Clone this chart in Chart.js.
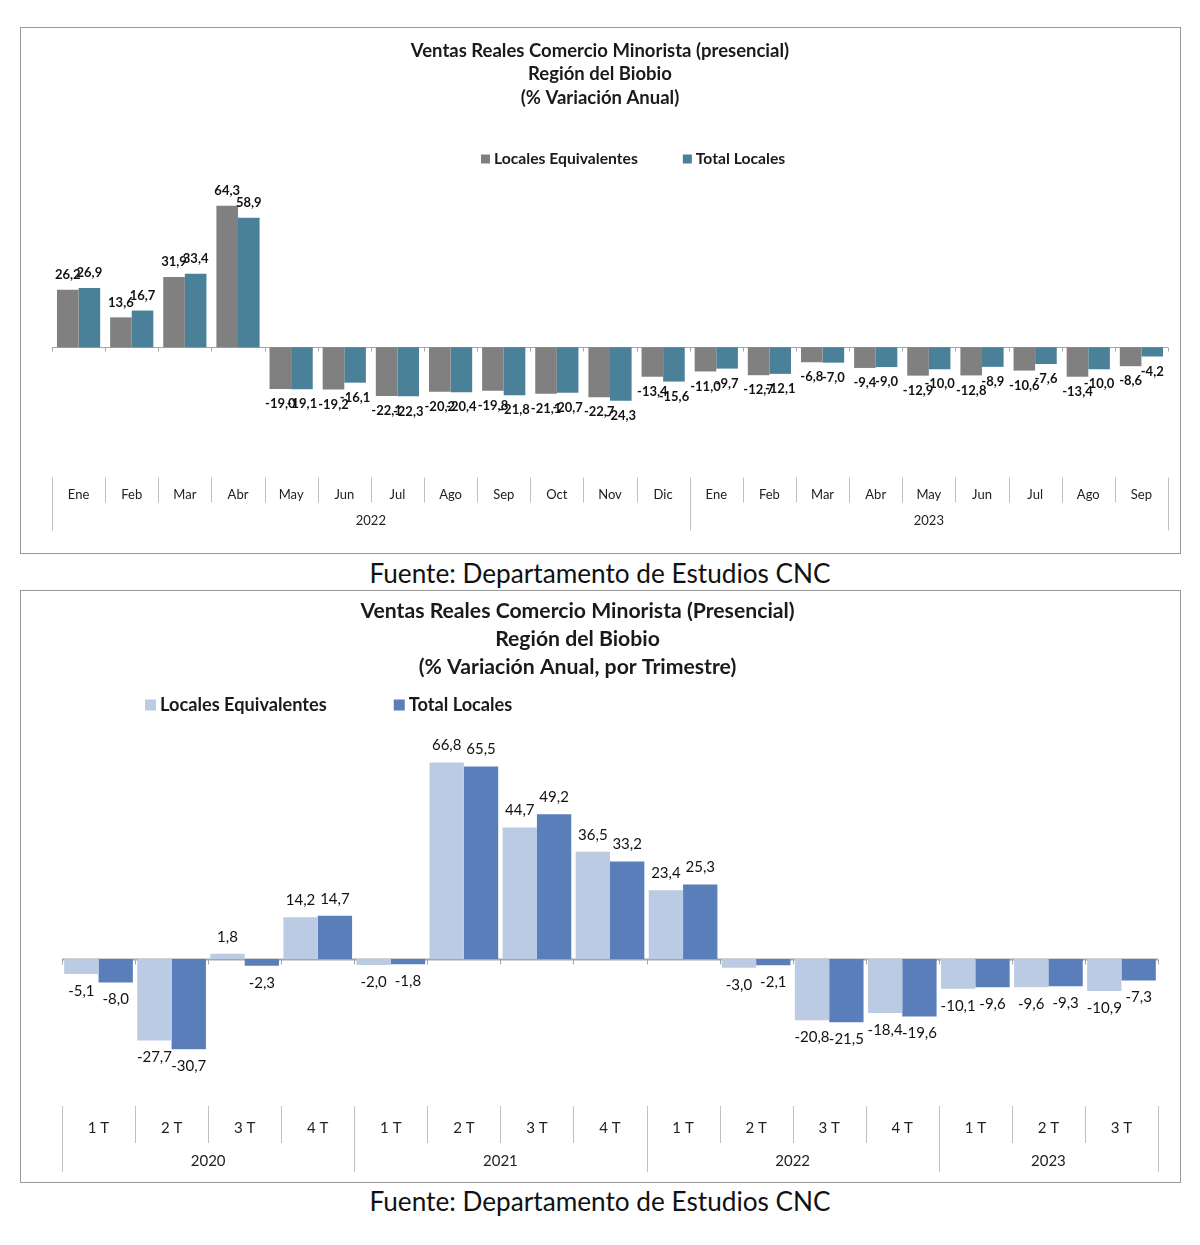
<!DOCTYPE html>
<html><head><meta charset="utf-8">
<script src="https://cdn.jsdelivr.net/npm/chart.js@4"></script>
<style>
body{margin:0;background:#fff;width:1200px;height:1245px;position:relative;overflow:hidden;font-family:Lato,sans-serif}
.box{position:absolute;left:20px;width:1159px;border:1px solid #9a9a9a;background:#fff}
#box1{top:27px;height:525px}
#box2{top:590px;height:591px}
canvas{position:absolute;left:0;top:0}
.src{position:absolute;left:0;width:1200px;text-align:center;font-size:26.2px;color:#111;font-family:Lato,sans-serif}
</style></head><body>
<div class="box" id="box1"><canvas id="c1" width="1159" height="525"></canvas></div>
<div class="src" style="top:557px">Fuente: Departamento de Estudios CNC</div>
<div class="box" id="box2"><canvas id="c2" width="1159" height="591"></canvas></div>
<div class="src" style="top:1185px">Fuente: Departamento de Estudios CNC</div>
<script>
// ---- Chart 1 data (monthly) ----
const monthTitle = ['Ventas Reales Comercio Minorista (presencial)', 'Región del Biobio', '(% Variación Anual)'];
const monthLabels = ['Ene','Feb','Mar','Abr','May','Jun','Jul','Ago','Sep','Oct','Nov','Dic','Ene','Feb','Mar','Abr','May','Jun','Jul','Ago','Sep'];
const monthYears = ['2022','2023'];
const monthYearCounts = [12, 9];
const monthEquiv = [26.2,13.6,31.9,64.3,-19.0,-19.2,-22.1,-20.2,-19.8,-21.1,-22.7,-13.4,-11.0,-12.7,-6.8,-9.4,-12.9,-12.8,-10.6,-13.4,-8.6];
const monthTotal = [26.9,16.7,33.4,58.9,-19.1,-16.1,-22.3,-20.4,-21.8,-20.7,-24.3,-15.6,-9.7,-12.1,-7.0,-9.0,-10.0,-8.9,-7.6,-10.0,-4.2];

// ---- Chart 2 data (quarterly) ----
const quarterTitle = ['Ventas Reales Comercio Minorista (Presencial)', 'Región del Biobio', '(% Variación Anual, por Trimestre)'];
const quarterLabels = ['1 T','2 T','3 T','4 T','1 T','2 T','3 T','4 T','1 T','2 T','3 T','4 T','1 T','2 T','3 T'];
const quarterYears = ['2020','2021','2022','2023'];
const quarterYearCounts = [4, 4, 4, 3];
const quarterEquiv = [-5.1,-27.7,1.8,14.2,-2.0,66.8,44.7,36.5,23.4,-3.0,-20.8,-18.4,-10.1,-9.6,-10.9];
const quarterTotal = [-8.0,-30.7,-2.3,14.7,-1.8,65.5,49.2,33.2,25.3,-2.1,-21.5,-19.6,-9.6,-9.3,-7.3];

const FONT = "Lato, sans-serif";

const valueLabels = {
  id: 'valueLabels',
  afterDatasetsDraw(chart, args, o) {
    const ctx = chart.ctx; ctx.save();
    ctx.font = o.font; ctx.fillStyle = o.color; ctx.textAlign = 'center'; ctx.textBaseline = 'middle';
    chart.data.datasets.forEach((ds, i) => {
      chart.getDatasetMeta(i).data.forEach((bar, j) => {
        const v = ds.data[j];
        const y = v >= 0 ? bar.y - o.offset : bar.y + o.offset;
        ctx.fillText(v.toFixed(1).replace('.', ','), bar.x, y);
      });
    });
    ctx.restore();
  }
};

const groupAxis = {
  id: 'groupAxis',
  beforeDatasetsDraw(chart, args, o) {
    const x = chart.scales.x, y = chart.scales.y, ctx = chart.ctx;
    const n = chart.data.labels.length;
    const w = x.getPixelForValue(1) - x.getPixelForValue(0);
    const edge = i => x.getPixelForValue(0) + (i - 0.5) * w;
    const zy = Math.round(y.getPixelForValue(0)) + 0.5;
    ctx.save();
    ctx.strokeStyle = o.zeroColor; ctx.lineWidth = o.zeroWidth;
    ctx.beginPath(); ctx.moveTo(edge(0), zy); ctx.lineTo(edge(n), zy); ctx.stroke();
    ctx.lineWidth = 1;
    for (let i = 0; i <= n; i++) {
      const px = Math.round(edge(i)) + 0.5;
      ctx.beginPath(); ctx.moveTo(px, zy); ctx.lineTo(px, zy + o.zeroTick); ctx.stroke();
    }
    ctx.restore();
  },
  afterDraw(chart, args, o) {
    const x = chart.scales.x, ctx = chart.ctx;
    const n = chart.data.labels.length;
    const w = x.getPixelForValue(1) - x.getPixelForValue(0);
    const edge = i => x.getPixelForValue(0) + (i - 0.5) * w;
    const starts = [0]; let acc = 0;
    o.counts.forEach(c => { acc += c; starts.push(acc); });
    const top = chart.chartArea.bottom;
    ctx.save();
    ctx.strokeStyle = o.sepColor; ctx.lineWidth = 1;
    for (let i = 0; i <= n; i++) {
      const px = Math.round(edge(i)) + 0.5;
      const len = starts.includes(i) ? o.longLen : o.shortLen;
      ctx.beginPath(); ctx.moveTo(px, top); ctx.lineTo(px, top + len); ctx.stroke();
    }
    ctx.font = o.font; ctx.fillStyle = o.color; ctx.textAlign = 'center'; ctx.textBaseline = 'middle';
    o.groups.forEach((g, k) => {
      const cx = (edge(starts[k]) + edge(starts[k + 1])) / 2;
      ctx.fillText(g, cx, top + o.groupY);
    });
    ctx.restore();
  }
};

const customTitle = {
  id: 'customTitle',
  afterDraw(chart, args, o) {
    const ctx = chart.ctx; ctx.save();
    ctx.font = o.font; ctx.fillStyle = o.color; ctx.textAlign = 'center'; ctx.textBaseline = 'middle';
    o.lines.forEach((t, i) => ctx.fillText(t, o.x, o.y + i * o.lineGap));
    ctx.restore();
  }
};

const customLegend = {
  id: 'customLegend',
  afterDraw(chart, args, o) {
    const ctx = chart.ctx; ctx.save();
    ctx.font = o.font; ctx.textBaseline = 'middle'; ctx.textAlign = 'left';
    let px = o.x;
    chart.data.datasets.forEach(ds => {
      ctx.fillStyle = ds.backgroundColor;
      ctx.fillRect(px, o.y - o.box / 2, o.box, o.box);
      px += o.box + o.textGap;
      ctx.fillStyle = o.color;
      ctx.fillText(ds.label, px, o.y);
      px += ctx.measureText(ds.label).width + o.gap;
    });
    ctx.restore();
  }
};

new Chart(document.getElementById('c1'), {
  type: 'bar',
  data: {
    labels: monthLabels,
    datasets: [
      { label: 'Locales Equivalentes', data: monthEquiv, backgroundColor: '#808080', clip: false },
      { label: 'Total Locales', data: monthTotal, backgroundColor: '#4a8199', clip: false }
    ]
  },
  options: {
    responsive: false, animation: false,
    layout: { padding: { left: 31, right: 12, top: 174, bottom: 40 } },
    datasets: { bar: { categoryPercentage: 0.813, barPercentage: 1 } },
    scales: {
      x: { grid: { display: false, drawTicks: false }, border: { display: false },
           ticks: { autoSkip: false, maxRotation: 0, padding: 10, color: '#222', font: { family: FONT, size: 13 } } },
      y: { display: false, min: -59.17, max: 66.06 }
    },
    plugins: {
      legend: { display: false }, tooltip: { enabled: false }, title: { display: false },
      customTitle: { lines: monthTitle, x: 579, y: 23, lineGap: 23.5, font: "bold 18.5px " + FONT, color: '#1a1a1a' },
      valueLabels: { font: "bold 13px " + FONT, color: '#111', offset: 15 },
      groupAxis: { counts: monthYearCounts, groups: monthYears, zeroColor: '#a6a6a6', zeroWidth: 1, zeroTick: 4,
                   sepColor: '#c0c0c0', shortLen: 25, longLen: 53, groupY: 43, font: "13px " + FONT, color: '#222' },
      customLegend: { x: 460, y: 131, box: 9, textGap: 4, gap: 45, font: "bold 15.7px " + FONT, color: '#1a1a1a' }
    }
  },
  plugins: [valueLabels, groupAxis, customTitle, customLegend]
});

new Chart(document.getElementById('c2'), {
  type: 'bar',
  data: {
    labels: quarterLabels,
    datasets: [
      { label: 'Locales Equivalentes', data: quarterEquiv, backgroundColor: '#bacbe3', clip: false },
      { label: 'Total Locales', data: quarterTotal, backgroundColor: '#5a7eba', clip: false }
    ]
  },
  options: {
    responsive: false, animation: false,
    layout: { padding: { left: 41, right: 22, top: 150, bottom: 32 } },
    datasets: { bar: { categoryPercentage: 0.94, barPercentage: 1 } },
    scales: {
      x: { grid: { display: false, drawTicks: false }, border: { display: false },
           ticks: { autoSkip: false, maxRotation: 0, padding: 13, color: '#222', font: { family: FONT, size: 15 } } },
      y: { display: false, min: -50.0, max: 74.15 }
    },
    plugins: {
      legend: { display: false }, tooltip: { enabled: false }, title: { display: false },
      customTitle: { lines: quarterTitle, x: 556.5, y: 20, lineGap: 28, font: "bold 21.2px " + FONT, color: '#1a1a1a' },
      valueLabels: { font: "15px " + FONT, color: '#111', offset: 17 },
      groupAxis: { counts: quarterYearCounts, groups: quarterYears, zeroColor: '#a6a6a6', zeroWidth: 2, zeroTick: 5,
                   sepColor: '#c0c0c0', shortLen: 37, longLen: 66, groupY: 55, font: "15px " + FONT, color: '#222' },
      customLegend: { x: 124, y: 114, box: 11, textGap: 4, gap: 67, font: "bold 18.2px " + FONT, color: '#1a1a1a' }
    }
  },
  plugins: [valueLabels, groupAxis, customTitle, customLegend]
});
</script>
</body></html>
